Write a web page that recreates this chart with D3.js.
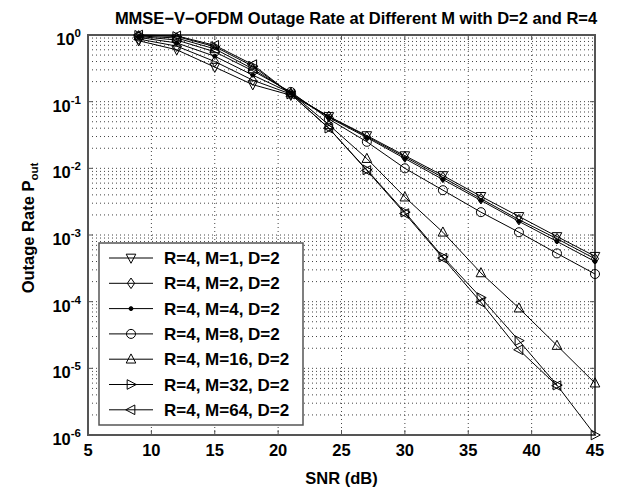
<!DOCTYPE html>
<html>
<head>
<meta charset="utf-8">
<script src="https://cdn.jsdelivr.net/npm/d3@7"></script>
<style>
  html, body { margin: 0; padding: 0; background: #fff; }
  svg { display: block; font-family: "Liberation Sans", Arial, sans-serif; font-weight: bold; }
</style>
</head>
<body>
<svg id="chart"></svg>
<script>
'use strict';

var snr = [9, 12, 15, 18, 21, 24, 27, 30, 33, 36, 39, 42, 45];

var seriesNames = [
  'R=4, M=1, D=2', 'R=4, M=2, D=2', 'R=4, M=4, D=2', 'R=4, M=8, D=2',
  'R=4, M=16, D=2', 'R=4, M=32, D=2', 'R=4, M=64, D=2'
];
var seriesMarkers = ['tdown', 'diamond', 'dot', 'circle', 'tup', 'tright', 'tleft'];

var outM1  = [0.82, 0.60, 0.33, 0.18, 0.125, 0.060, 0.031, 0.0155, 0.0078, 0.0038, 0.0019, 0.00095, 0.00048];
var outM2  = [0.87, 0.68, 0.40, 0.21, 0.130, 0.060, 0.030, 0.0148, 0.0073, 0.0035, 0.0017, 0.00088, 0.00044];
var outM4  = [0.92, 0.76, 0.48, 0.25, 0.135, 0.058, 0.029, 0.0140, 0.0068, 0.0033, 0.0016, 0.00080, 0.00040];
var outM8  = [0.95, 0.84, 0.56, 0.29, 0.140, 0.055, 0.025, 0.0100, 0.0047, 0.0022, 0.0011, 0.00053, 0.00026];
var outM16 = [0.97, 0.90, 0.62, 0.31, 0.135, 0.045, 0.0140, 0.0037, 0.0011, 0.00027, 8.0e-5, 2.2e-5, 6.0e-6];
var outM32 = [0.99, 0.95, 0.67, 0.34, 0.130, 0.040, 0.0095, 0.0022, 0.00047, 1.15e-4, 2.6e-5, 5.6e-6, 1.0e-6];
var outM64 = [1.00, 0.97, 0.70, 0.36, 0.130, 0.040, 0.0093, 0.0021, 0.00045, 9.8e-5, 1.9e-5, 5.5e-6, null];

var seriesValues = [outM1, outM2, outM4, outM8, outM16, outM32, outM64];

var xTicks = [5, 10, 15, 20, 25, 30, 35, 40, 45];
var yDecades = [0, -1, -2, -3, -4, -5, -6];

var width = 617,
  height = 492,
  plotLeft = 88,
  plotRight = 595,
  plotTop = 35,
  plotBottom = 435,
  frameColor = '#555',
  gridColor = '#444',
  fontSize = 16.5,
  legendFontSize = 17,
  supSize = 11.5;

var svg = d3.select('#chart').attr('width', width).attr('height', height);

var x = d3.scaleLinear().domain([5, 45]).range([plotLeft, plotRight]);
var y = d3.scaleLog().domain([1e-6, 1]).range([plotBottom, plotTop]);

function markerPath(kind) {
  var s = 4.8;
  switch (kind) {
    case 'tdown':
      return 'M' + (-s) + ',' + (-s * 0.8) + 'L' + s + ',' + (-s * 0.8) + 'L0,' + (s * 1.1) + 'Z';
    case 'tup':
      return 'M' + (-s) + ',' + (s * 0.8) + 'L' + s + ',' + (s * 0.8) + 'L0,' + (-s * 1.1) + 'Z';
    case 'tright':
      return 'M' + (-s * 0.8) + ',' + (-s) + 'L' + (-s * 0.8) + ',' + s + 'L' + (s * 1.1) + ',0Z';
    case 'tleft':
      return 'M' + (s * 0.8) + ',' + (-s) + 'L' + (s * 0.8) + ',' + s + 'L' + (-s * 1.1) + ',0Z';
    case 'diamond':
      return 'M0,' + (-s * 1.1) + 'L' + (s * 0.75) + ',0L0,' + (s * 1.1) + 'L' + (-s * 0.75) + ',0Z';
    case 'circle':
      return d3.symbol(d3.symbolCircle, 64)();
    default:
      return d3.symbol(d3.symbolCircle, 12)();
  }
}

function drawMarker(g, kind, cx, cy) {
  g.append('path')
    .attr('d', markerPath(kind))
    .attr('transform', 'translate(' + cx + ',' + cy + ')')
    .attr('fill', kind === 'dot' ? '#000' : 'none')
    .attr('stroke', '#000')
    .attr('stroke-width', 1);
}

// grid (dotted, major + minor decades)
var grid = svg.append('g');
xTicks.forEach(function (t) {
  if (t === 5 || t === 45) return;
  grid.append('line')
    .attr('x1', x(t)).attr('x2', x(t)).attr('y1', plotTop).attr('y2', plotBottom)
    .attr('stroke', gridColor).attr('stroke-width', 1).attr('stroke-dasharray', '1,3');
});
yDecades.forEach(function (e) {
  for (var m = 1; m < 10; m++) {
    var v = m * Math.pow(10, e);
    if (v >= 1 || v < 1e-6) continue;
    if (m === 1 && e === -6) continue;
    grid.append('line')
      .attr('x1', plotLeft).attr('x2', plotRight).attr('y1', y(v)).attr('y2', y(v))
      .attr('stroke', gridColor).attr('stroke-width', 1).attr('stroke-dasharray', '1,3');
  }
});

// frame and inward ticks
svg.append('rect')
  .attr('x', plotLeft).attr('y', plotTop)
  .attr('width', plotRight - plotLeft).attr('height', plotBottom - plotTop)
  .attr('fill', 'none').attr('stroke', frameColor).attr('stroke-width', 2);

var ticks = svg.append('g').attr('stroke', frameColor).attr('stroke-width', 1);
xTicks.forEach(function (t) {
  ticks.append('line').attr('x1', x(t)).attr('x2', x(t)).attr('y1', plotBottom).attr('y2', plotBottom - 5);
  ticks.append('line').attr('x1', x(t)).attr('x2', x(t)).attr('y1', plotTop).attr('y2', plotTop + 5);
});
yDecades.forEach(function (e) {
  var yy = y(Math.pow(10, e));
  ticks.append('line').attr('x1', plotLeft).attr('x2', plotLeft + 5).attr('y1', yy).attr('y2', yy);
  ticks.append('line').attr('x1', plotRight).attr('x2', plotRight - 5).attr('y1', yy).attr('y2', yy);
});

// series
var line = d3.line()
  .defined(function (d) { return d[1] !== null; })
  .x(function (d) { return x(d[0]); })
  .y(function (d) { return y(d[1]); });

seriesValues.forEach(function (vals, i) {
  var pts = snr.map(function (s, j) { return [s, vals[j]]; });
  svg.append('path')
    .attr('d', line(pts))
    .attr('fill', 'none').attr('stroke', '#000').attr('stroke-width', 1);
  var mg = svg.append('g');
  pts.forEach(function (p) {
    if (p[1] === null) return;
    drawMarker(mg, seriesMarkers[i], x(p[0]), y(p[1]));
  });
});

// tick labels
svg.append('g').selectAll('text').data(xTicks).enter().append('text')
  .attr('x', function (d) { return x(d); })
  .attr('y', plotBottom + 21)
  .attr('text-anchor', 'middle')
  .attr('font-size', fontSize)
  .text(function (d) { return d; });

var yLabels = svg.append('g').selectAll('text').data(yDecades).enter().append('text')
  .attr('x', plotLeft - 7)
  .attr('y', function (d) { return y(Math.pow(10, d)) + 10; })
  .attr('text-anchor', 'end')
  .attr('font-size', fontSize);
yLabels.append('tspan').text('10');
yLabels.append('tspan')
  .attr('dy', -8)
  .attr('font-size', supSize)
  .text(function (d) { return d === 0 ? '0' : '-' + (-d); });

// axis titles
svg.append('text')
  .attr('x', (plotLeft + plotRight) / 2).attr('y', 484)
  .attr('text-anchor', 'middle').attr('font-size', fontSize)
  .text('SNR (dB)');

var yt = svg.append('text')
  .attr('transform', 'translate(34,228) rotate(-90)')
  .attr('text-anchor', 'middle').attr('font-size', fontSize);
yt.append('tspan').text('Outage Rate P');
yt.append('tspan').attr('dy', 4).attr('font-size', supSize).text('out');

svg.append('text')
  .attr('x', 356).attr('y', 24)
  .attr('text-anchor', 'middle').attr('font-size', fontSize)
  .text('MMSE\u2212V\u2212OFDM Outage Rate at Different M with D=2 and R=4');

// legend
var lx = 99, ly = 243, lw = 204, lh = 182, step = 25.3;
var legend = svg.append('g');
legend.append('rect')
  .attr('x', lx).attr('y', ly).attr('width', lw).attr('height', lh)
  .attr('fill', '#fff').attr('stroke', frameColor).attr('stroke-width', 1.5);
seriesNames.forEach(function (name, i) {
  var yy = ly + 15 + i * step;
  legend.append('line')
    .attr('x1', lx + 10).attr('x2', lx + 54).attr('y1', yy).attr('y2', yy)
    .attr('stroke', '#000').attr('stroke-width', 1);
  drawMarker(legend, seriesMarkers[i], lx + 32, yy);
  legend.append('text')
    .attr('x', lx + 65).attr('y', yy + 6)
    .attr('font-size', legendFontSize)
    .text(name);
});
</script>
</body>
</html>
